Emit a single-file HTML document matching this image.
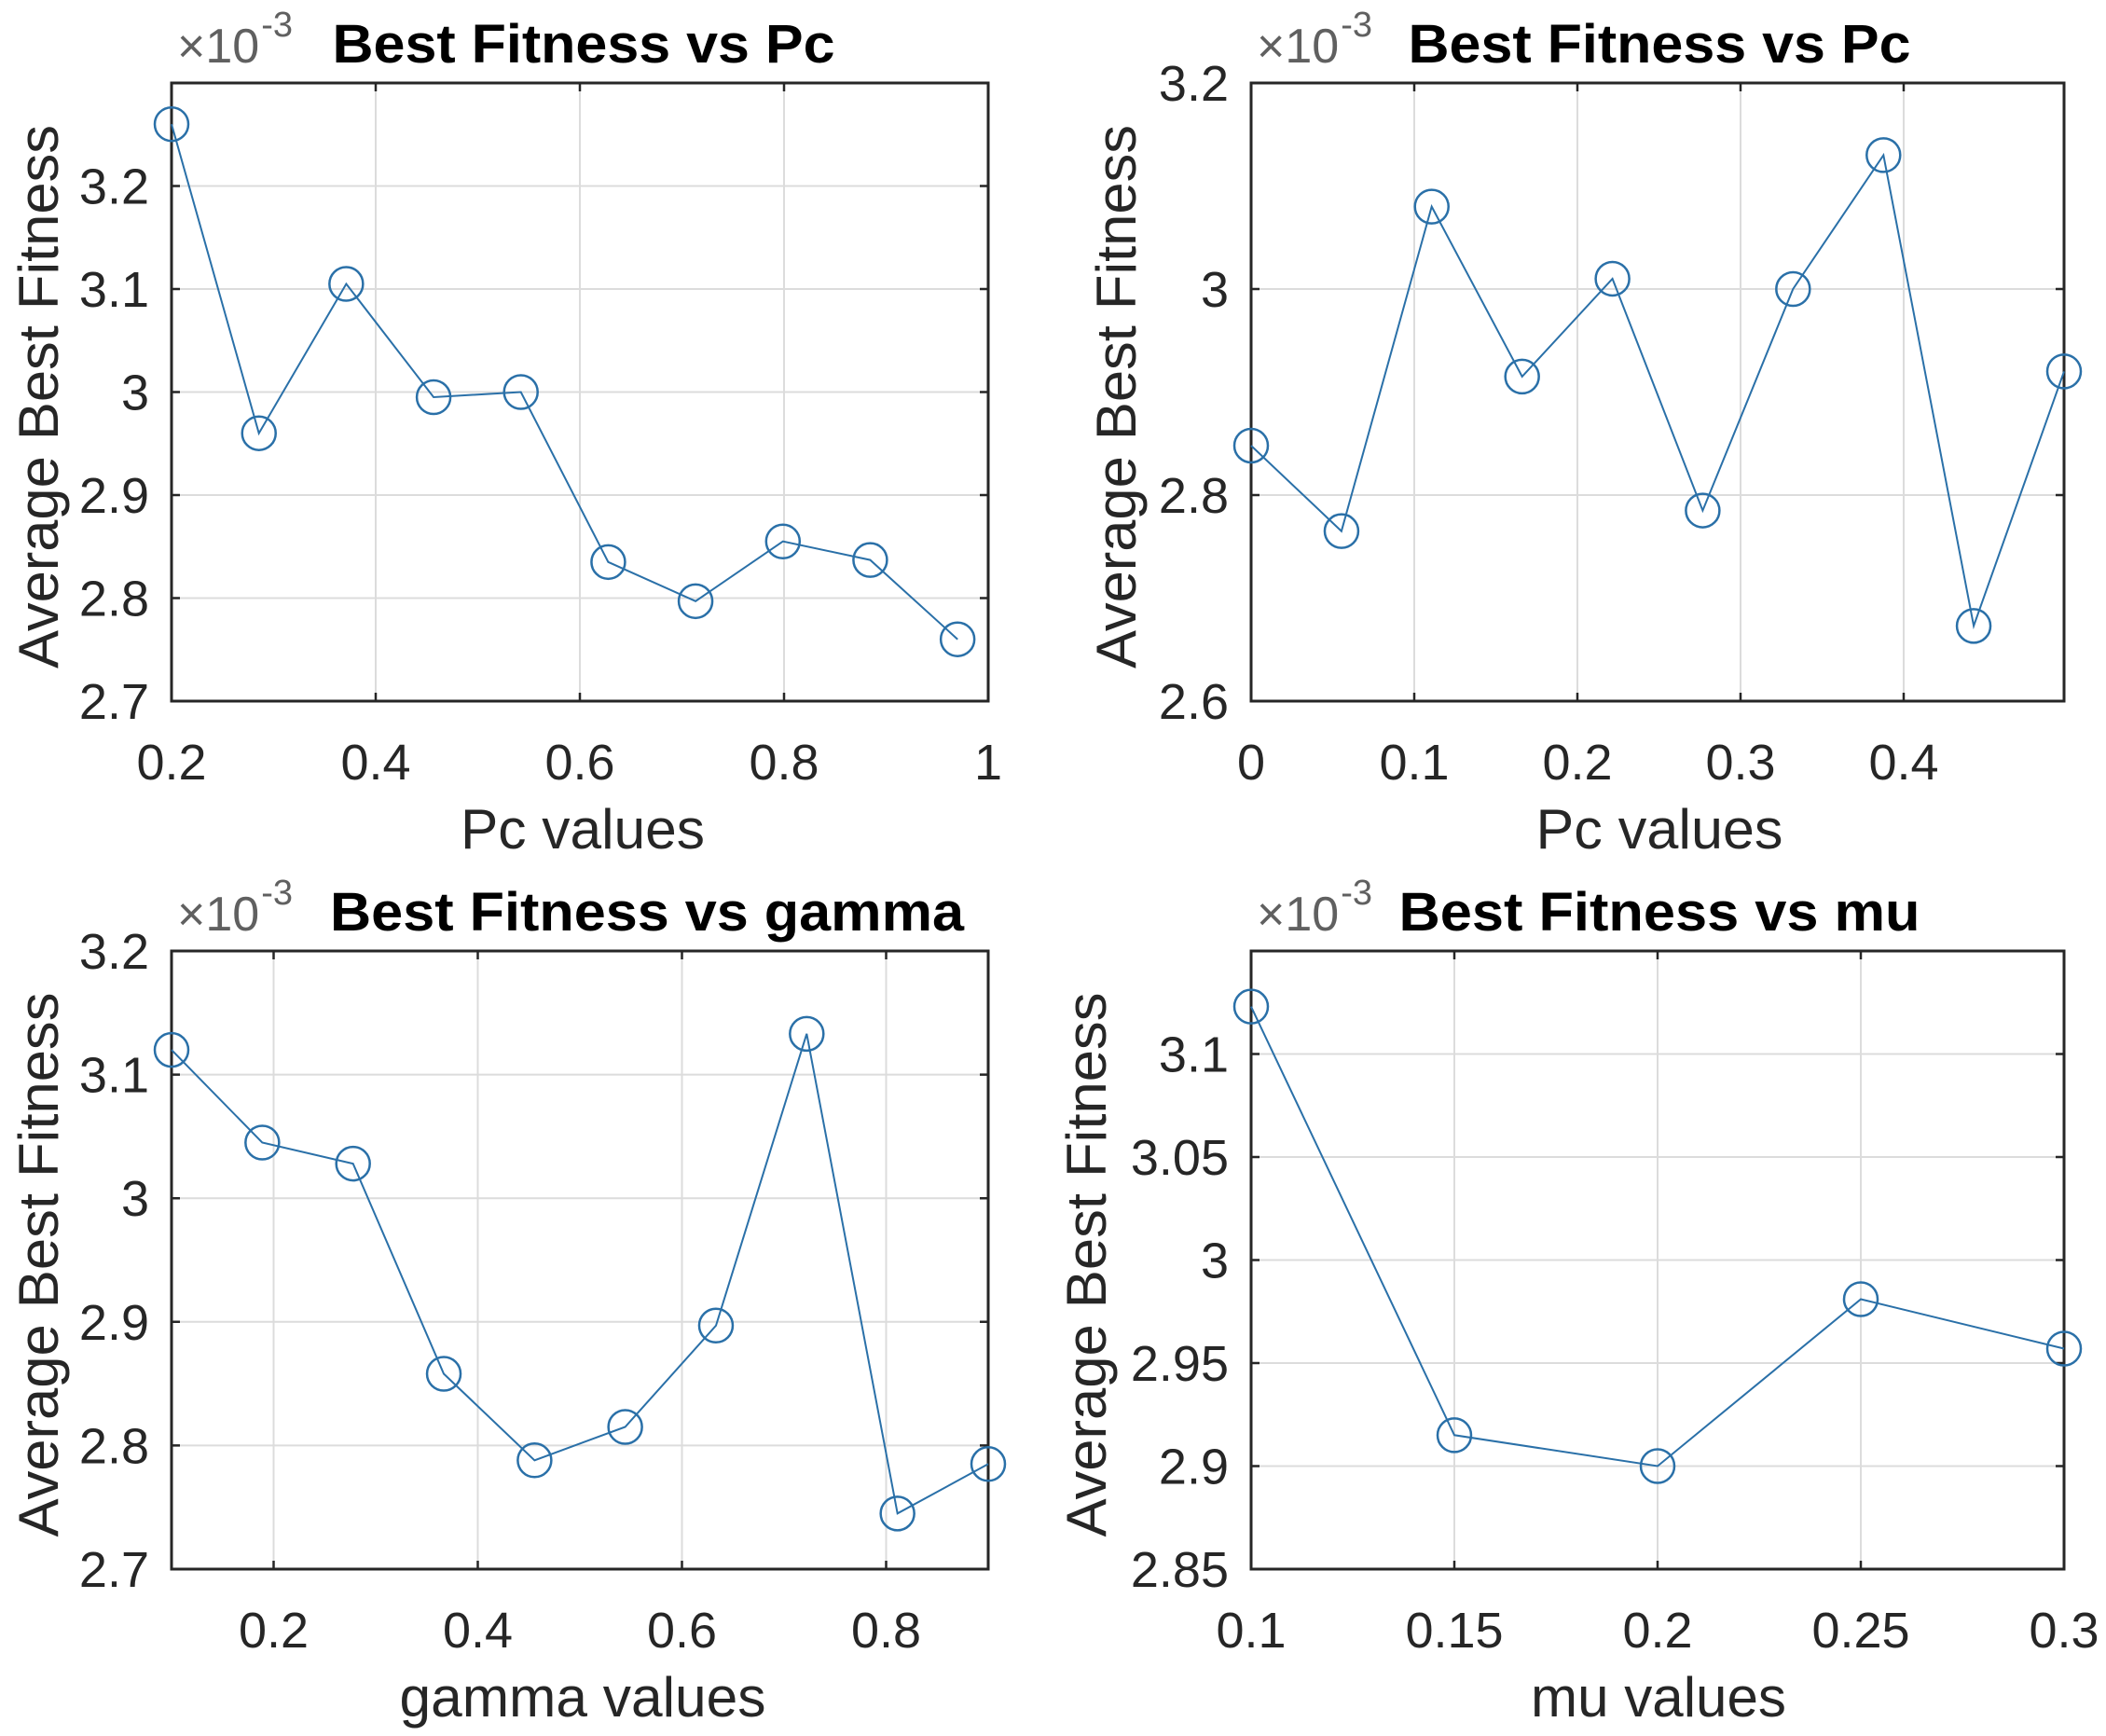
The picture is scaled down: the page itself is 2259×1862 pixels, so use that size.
<!DOCTYPE html>
<html><head><meta charset="utf-8"><style>
html,body{margin:0;padding:0;background:#fff;}
svg{display:block;}
text{font-family:"Liberation Sans",Arial,sans-serif;}
</style></head><body>
<svg id="fig" width="2259" height="1862" viewBox="0 0 2259 1862" xmlns="http://www.w3.org/2000/svg"></svg>
<script>
// ---- data ----
const pc1X = [0.2,0.2856,0.3711,0.4567,0.5422,0.6278,0.7133,0.7989,0.8844,0.97];
const pc1Y = [3.26,2.96,3.105,2.995,3.0,2.835,2.797,2.855,2.837,2.76];
const pc1XTicks = [0.2,0.4,0.6,0.8,1];
const pc1XTickLabels = ["0.2","0.4","0.6","0.8","1"];
const pc1YTicks = [2.7,2.8,2.9,3.0,3.1,3.2];
const pc1YTickLabels = ["2.7","2.8","2.9","3","3.1","3.2"];

const pc2X = [0,0.0554,0.1107,0.1661,0.2215,0.2768,0.3322,0.3876,0.4429,0.4983];
const pc2Y = [2.848,2.765,3.08,2.915,3.01,2.785,3.0,3.13,2.673,2.92];
const pc2XTicks = [0,0.1,0.2,0.3,0.4];
const pc2XTickLabels = ["0","0.1","0.2","0.3","0.4"];
const pc2YTicks = [2.6,2.8,3.0,3.2];
const pc2YTickLabels = ["2.6","2.8","3","3.2"];

const gammaX = [0.1,0.1889,0.2778,0.3667,0.4556,0.5444,0.6333,0.7222,0.8111,0.9];
const gammaY = [3.12,3.045,3.028,2.858,2.788,2.815,2.897,3.133,2.745,2.785];
const gammaXTicks = [0.2,0.4,0.6,0.8];
const gammaXTickLabels = ["0.2","0.4","0.6","0.8"];
const gammaYTicks = [2.7,2.8,2.9,3.0,3.1,3.2];
const gammaYTickLabels = ["2.7","2.8","2.9","3","3.1","3.2"];

const muX = [0.1,0.15,0.2,0.25,0.3];
const muY = [3.123,2.915,2.9,2.981,2.957];
const muXTicks = [0.1,0.15,0.2,0.25,0.3];
const muXTickLabels = ["0.1","0.15","0.2","0.25","0.3"];
const muYTicks = [2.85,2.9,2.95,3.0,3.05,3.1];
const muYTickLabels = ["2.85","2.9","2.95","3","3.05","3.1"];

const NS = "http://www.w3.org/2000/svg";
const svg = document.getElementById('fig');
function mk(tag, attrs, parent){
  const e = document.createElementNS(NS, tag);
  for (const k in attrs) e.setAttribute(k, attrs[k]);
  (parent||svg).appendChild(e);
  return e;
}
function stretchText(t, f){
  const l = t.getComputedTextLength();
  t.setAttribute('textLength', (l*f).toFixed(1));
  t.setAttribute('lengthAdjust', 'spacingAndGlyphs');
  return l*f;
}

const panels = [
  {id:'pc1', x0:184,x1:1060,y0:89,y1:752, xlim:[0.2,1], ylim:[2.7,3.3], X:pc1X, Y:pc1Y,
   xt:pc1XTicks, xtl:pc1XTickLabels, yt:pc1YTicks, ytl:pc1YTickLabels,
   title:"Best Fitness vs Pc", tcx:626, tw:539, xlabel:"Pc values", xlw:262, xlcx:625, ylx:62, yllen:583},
  {id:'pc2', x0:1342,x1:2214,y0:89,y1:752, xlim:[0,0.4983], ylim:[2.6,3.2], X:pc2X, Y:pc2Y,
   xt:pc2XTicks, xtl:pc2XTickLabels, yt:pc2YTicks, ytl:pc2YTickLabels,
   title:"Best Fitness vs Pc", tcx:1780, tw:539, xlabel:"Pc values", xlw:265, xlcx:1780, ylx:1218, yllen:583},
  {id:'gamma', x0:184,x1:1060,y0:1020,y1:1683, xlim:[0.1,0.9], ylim:[2.7,3.2], X:gammaX, Y:gammaY,
   xt:gammaXTicks, xtl:gammaXTickLabels, yt:gammaYTicks, ytl:gammaYTickLabels,
   title:"Best Fitness vs gamma", tcx:694, tw:680, xlabel:"gamma values", xlw:393, xlcx:625, ylx:62, yllen:584},
  {id:'mu', x0:1342,x1:2214,y0:1020,y1:1683, xlim:[0.1,0.3], ylim:[2.85,3.15], X:muX, Y:muY,
   xt:muXTicks, xtl:muXTickLabels, yt:muYTicks, ytl:muYTickLabels,
   title:"Best Fitness vs mu", tcx:1780, tw:559, xlabel:"mu values", xlw:274, xlcx:1779, ylx:1186, yllen:584}
];

panels.forEach(p => {
  const g = mk('g', {});
  
  
  const sx = v => p.x0 + (v - p.xlim[0]) / (p.xlim[1] - p.xlim[0]) * (p.x1 - p.x0);
  const sy = v => p.y1 - (v - p.ylim[0]) / (p.ylim[1] - p.ylim[0]) * (p.y1 - p.y0);
  p.xt.forEach(v => {
    const l = mk('line', {x1:sx(v),x2:sx(v),y1:p.y0,y2:p.y1,stroke:'#dcdcdc','stroke-width':2}, g);
    
    
  });
  p.yt.forEach(v => {
    const l = mk('line', {x1:p.x0,x2:p.x1,y1:sy(v),y2:sy(v),stroke:'#dcdcdc','stroke-width':2}, g);
    
    
  });
  p.xt.forEach((v,i) => {
    const tk = mk('path', {d:`M${sx(v)} ${p.y1}v-9M${sx(v)} ${p.y0}v9`, stroke:'#262626','stroke-width':2.5}, g);
    
    
    const t = mk('text', {x:sx(v), y:p.y1+84, 'font-size':54, fill:'#262626','text-anchor':'middle'}, g);
    t.textContent = p.xtl[i];
    
    
  });
  p.yt.forEach((v,i) => {
    const tk = mk('path', {d:`M${p.x0} ${sy(v)}h9M${p.x1} ${sy(v)}h-9`, stroke:'#262626','stroke-width':2.5}, g);
    
    
    const t = mk('text', {x:p.x0-24, y:sy(v)+19, 'font-size':54, fill:'#262626','text-anchor':'end'}, g);
    t.textContent = p.ytl[i];
    
    
  });
  const box = mk('rect', {x:p.x0,y:p.y0,width:p.x1-p.x0,height:p.y1-p.y0,fill:'none',stroke:'#262626','stroke-width':3}, g);
  
  
  const pts = p.X.map((x,i) => `${sx(x).toFixed(1)},${sy(p.Y[i]).toFixed(1)}`).join(' ');
  const line = mk('polyline', {points:pts, fill:'none', stroke:'#2a70a8','stroke-width':2}, g);
  
  
  p.X.forEach((x,i) => {
    const c = mk('circle', {cx:sx(x), cy:sy(p.Y[i]), r:18, fill:'none', stroke:'#2a70a8','stroke-width':2.5}, g);
    
    
  });
  const ex = mk('text', {x:p.x0+6, y:p.y0-22, 'font-size':52, fill:'#606060'}, g);
  
  
  ex.textContent = '×10';
  const w = ex.getComputedTextLength();
  const sup = mk('text', {x:p.x0+8+w, y:p.y0-50, 'font-size':38, fill:'#606060'}, g);
  
  
  sup.textContent = '-3';
  const ti = mk('text', {x:p.tcx, y:p.y0-22, 'font-size':58, 'font-weight':'bold', fill:'#000','text-anchor':'middle', textLength:p.tw, lengthAdjust:'spacingAndGlyphs'}, g);
  
  
  ti.textContent = p.title;
  const xl = mk('text', {x:p.xlcx, y:p.y1+158, 'font-size':60, fill:'#262626','text-anchor':'middle', textLength:p.xlw, lengthAdjust:'spacingAndGlyphs'}, g);
  
  
  xl.textContent = p.xlabel;
  const cy = (p.y0 + p.y1) / 2 + 5;
  const yl = mk('text', {x:0, y:0, 'font-size':60, fill:'#262626','text-anchor':'middle', textLength:p.yllen, lengthAdjust:'spacingAndGlyphs', transform:`translate(${p.ylx},${cy}) rotate(-90)`}, g);
  
  
  yl.textContent = 'Average Best Fitness';
});
</script>
</body></html>
